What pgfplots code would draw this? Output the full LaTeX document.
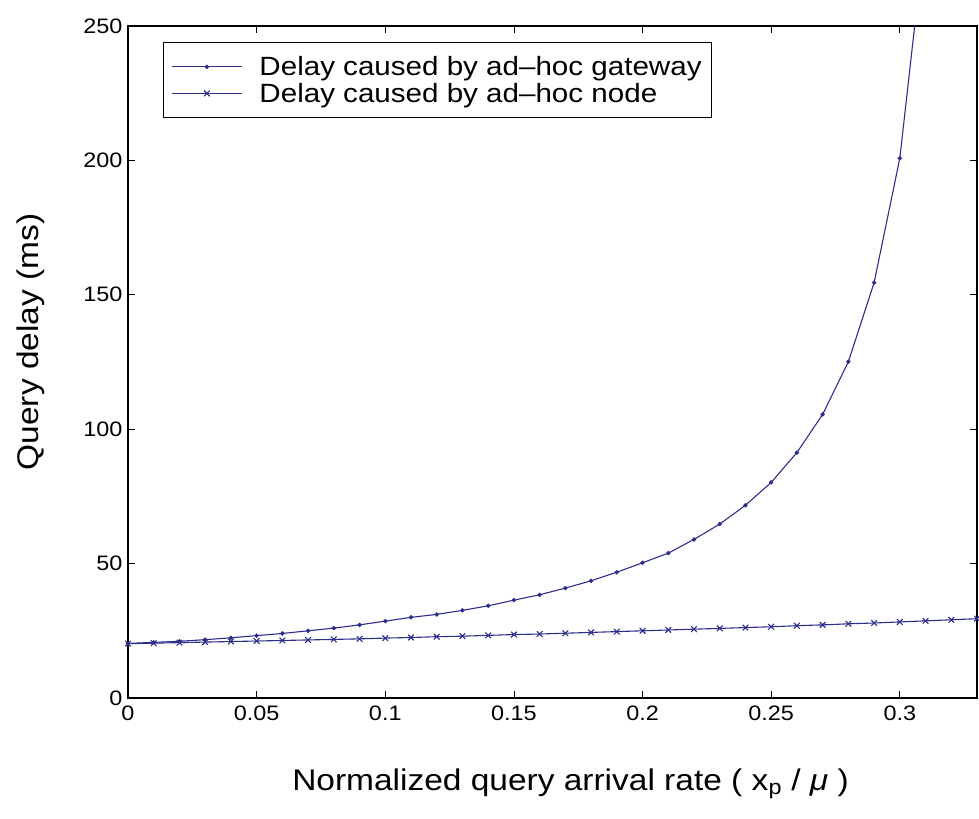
\documentclass[border=0pt]{standalone}
\usepackage{fontspec}
\setmainfont{Liberation Sans}[FakeStretch=1.12]
\usepackage{pgfplots}
\pgfplotsset{compat=1.18}
\definecolor{lc}{RGB}{45,45,140}
\begin{document}
\begin{tikzpicture}
\begin{axis}[
  scale only axis,
  width=849bp, height=672bp,
  xmin=0, xmax=0.33, ymin=0, ymax=250,
  xtick={0,0.05,0.1,0.15,0.2,0.25,0.3},
  xticklabels={0,0.05,0.1,0.15,0.2,0.25,0.3},
  ytick={0,50,100,150,200,250},
  tick align=inside,
  major tick length=7bp,
  axis line style={line width=1.3bp},
  every tick/.style={black, line width=0.8bp},
  /pgf/number format/assume math mode=true,
  tick label style={font=\fontsize{21}{25}\selectfont},
  xticklabel style={yshift=-4bp},
  yticklabel style={xshift=-2bp},
  xlabel={Normalized query arrival rate ( x\textsubscript{p} / \textit{μ} )},
  ylabel={Query delay (ms)},
  label style={font=\fontsize{30}{34}\selectfont},
  xlabel style={yshift=-42bp, xshift=18bp},
  ylabel style={yshift=32bp, xshift=20bp},
  legend style={at={(axis description cs:0.0412,0.976)}, anchor=north west,
    draw=black, line width=0.8bp, font=\fontsize{26.5}{28}\selectfont,
    row sep=2bp, column sep=15bp, inner xsep=8bp, inner ysep=12bp, cells={anchor=west}},
  legend cell align=left,
  legend image code/.code={\draw[mark repeat=2,mark phase=2,#1] plot coordinates {(0bp,0bp) (35bp,0bp) (70bp,0bp)};},
]
\addplot[color=lc, line width=1.1bp, mark=*, mark size=1.6bp] coordinates {
(0,20.3) (0.01,20.7) (0.02,21.1) (0.03,21.7) (0.04,22.4) (0.05,23.2)
(0.06,24.0) (0.07,25.0) (0.08,26.0) (0.09,27.2) (0.10,28.6) (0.11,30.0)
(0.12,31.1) (0.13,32.6) (0.14,34.3) (0.15,36.4) (0.16,38.4) (0.17,40.9)
(0.18,43.6) (0.19,46.8) (0.20,50.3) (0.21,53.9) (0.22,59.0) (0.23,64.7)
(0.24,71.7) (0.25,80.2) (0.26,91.3) (0.27,105.5) (0.28,125.1) (0.29,154.5)
(0.30,200.8) (0.31,286)
};
\addlegendentry{Delay caused by ad–hoc gateway\hspace{20bp}}
\addplot[color=lc, line width=1.1bp, mark=x, mark size=4bp, mark options={line width=1.1bp}] coordinates {
(0,20.2) (0.01,20.4) (0.02,20.6) (0.03,20.8) (0.04,21.0) (0.05,21.2)
(0.06,21.4) (0.07,21.6) (0.08,21.8) (0.09,22.0) (0.10,22.3) (0.11,22.5)
(0.12,22.8) (0.13,23.0) (0.14,23.3) (0.15,23.6) (0.16,23.8) (0.17,24.1)
(0.18,24.4) (0.19,24.7) (0.20,25.0) (0.21,25.3) (0.22,25.6) (0.23,25.9)
(0.24,26.2) (0.25,26.5) (0.26,26.9) (0.27,27.2) (0.28,27.6) (0.29,27.9)
(0.30,28.3) (0.31,28.7) (0.32,29.1) (0.33,29.5)
};
\addlegendentry{Delay caused by ad–hoc node}
\coordinate (SW) at (rel axis cs:0,0);
\coordinate (NE) at (rel axis cs:1,1);
\end{axis}
\pgfresetboundingbox
\path ([xshift=-128bp,yshift=-121bp]SW) rectangle ([xshift=2bp,yshift=26bp]NE);
\end{tikzpicture}
\end{document}
